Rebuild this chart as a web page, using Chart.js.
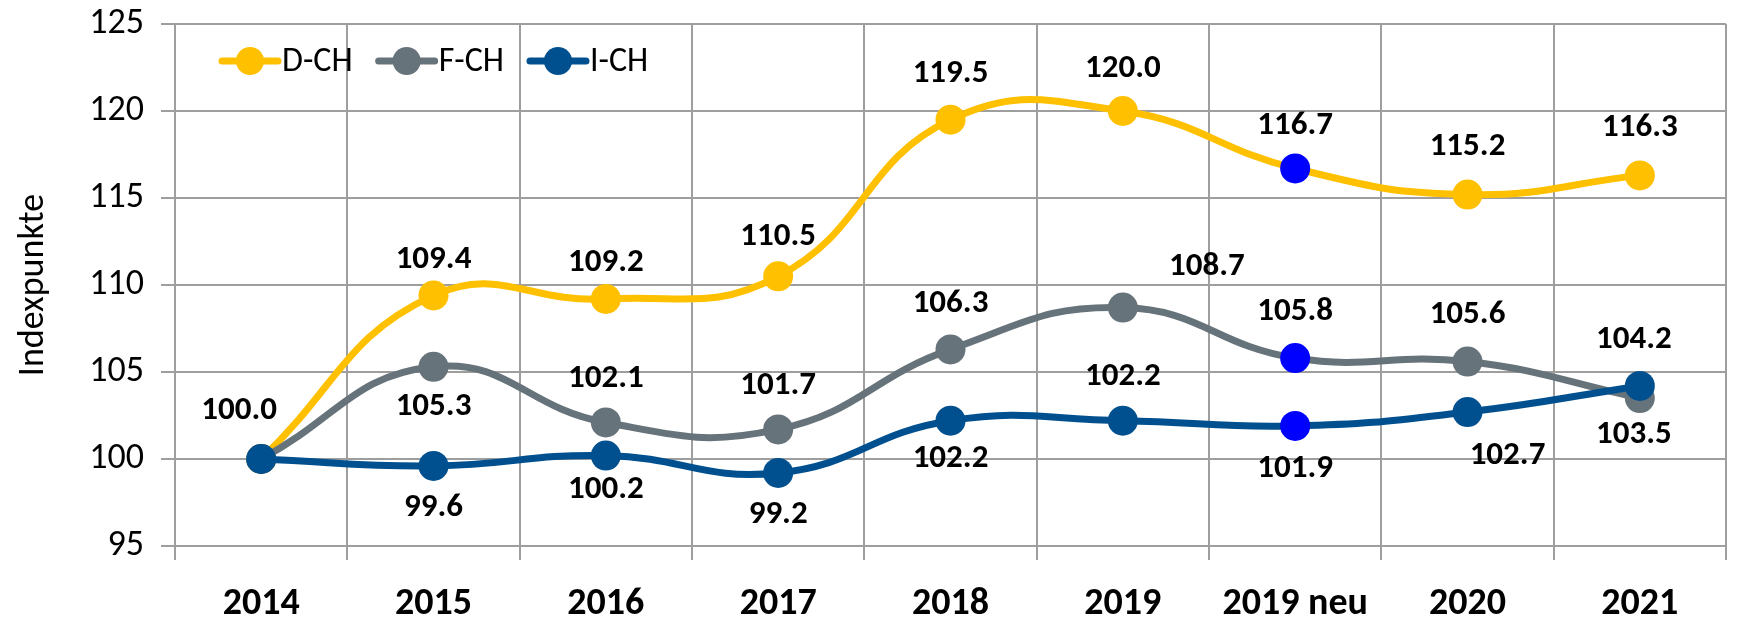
<!DOCTYPE html>
<html>
<head>
<meta charset="utf-8">
<title>Indexpunkte</title>
<script src="https://cdn.jsdelivr.net/npm/chart.js@4.4.1/dist/chart.umd.min.js"></script>
<style>
    html, body { margin:0; padding:0; background:#ffffff; }
    #chart { display:block; }
</style>
</head>
<body>
<canvas id="chart" width="1741" height="622"></canvas>
<script>
//=========================================
// Data
//=========================================
let categories = ["2014","2015","2016","2017","2018","2019","2019 neu","2020","2021"];

let dchValues = [100.0,109.4,109.2,110.5,119.5,120.0,116.7,115.2,116.3];
let fchValues = [100.0,105.3,102.1,101.7,106.3,108.7,105.8,105.6,103.5];
let ichValues = [100.0,99.6,100.2,99.2,102.2,102.2,101.9,102.7,104.2];

let yTicks = [95,100,105,110,115,120,125];

let seriesNames = ["D-CH","F-CH","I-CH"];

// which value labels are shown (the 2014 point carries only one label)
let dchShowLabel = [true,true,true,true,true,true,true,true,true];
let fchShowLabel = [false,true,true,true,true,true,true,true,true];
let ichShowLabel = [false,true,true,true,true,true,true,true,true];

//=========================================
// Styles
//=========================================
let fontFamily = "Carlito, Calibri, Lato, 'Noto Sans', sans-serif";

let yellow = "#FFC000";
let grey = "#67737A";
let navy = "#00508F";
let newBlue = "#0000FF";
let gridColor = "#9E9E9E";

// label offsets in px from the point [dx, dy]
let dchLabelOffset = [[-22,-48],[0,-36],[0,-36],[0,-40],[0,-46],[0,-42],[0,-43],[0,-48],[0,-48]];
let fchLabelOffset = [[0,0],[0,40],[0,-44],[0,-44],[0,-46],[84,-41],[0,-46],[0,-47],[-6,37]];
let ichLabelOffset = [[0,0],[0,42],[0,34],[0,42],[0,38],[0,-44],[0,43],[40,44],[-6,-46]];

function pointColors(base){
    return categories.map(function(c){ return c === "2019 neu" ? newBlue : base; });
}

//------------------------------------
// Value labels plugin
//------------------------------------
const valueLabels = {
    id:"valueLabels",
    afterDatasetsDraw(chart){
        const ctx = chart.ctx;
        ctx.save();
        ctx.font = "bold 33px " + fontFamily;
        ctx.fillStyle = "#000000";
        ctx.textAlign = "center";
        ctx.textBaseline = "middle";
        chart.data.datasets.forEach(function(ds, i){
            const meta = chart.getDatasetMeta(i);
            meta.data.forEach(function(pt, j){
                if(!ds.showLabel[j]) return;
                const off = ds.labelOffset[j];
                ctx.fillText(ds.data[j].toFixed(1), pt.x + off[0], pt.y + off[1]);
            });
        });
        ctx.restore();
    }
};

//------------------------------------
// Legend plugin (inside plot area)
//------------------------------------
const insideLegend = {
    id:"insideLegend",
    afterDraw(chart){
        const ctx = chart.ctx;
        ctx.save();
        ctx.font = "34px " + fontFamily;
        ctx.textBaseline = "middle";
        ctx.textAlign = "left";
        let x = 222;
        const y = 61;
        seriesNames.forEach(function(name){
            const ds = chart.data.datasets.find(function(d){ return d.label === name; });
            ctx.strokeStyle = ds.borderColor;
            ctx.lineWidth = 7;
            ctx.lineCap = "round";
            ctx.beginPath();
            ctx.moveTo(x, y);
            ctx.lineTo(x + 56, y);
            ctx.stroke();
            ctx.fillStyle = ds.borderColor;
            ctx.beginPath();
            ctx.arc(x + 28, y, 14, 0, Math.PI * 2);
            ctx.fill();
            ctx.fillStyle = "#000000";
            ctx.fillText(name, x + 60, y + 1);
            x += 60 + ctx.measureText(name).width + 26;
        });
        ctx.restore();
    }
};

//=========================================
// Chart
//=========================================
let lineChart = new Chart(
    document.getElementById("chart"),
    {
        type:"line",
        data:{
            labels:categories,
            datasets:[
                {
                    label:"D-CH",
                    data:dchValues,
                    showLabel:dchShowLabel,
                    labelOffset:dchLabelOffset,
                    borderColor:yellow,
                    pointBackgroundColor:pointColors(yellow),
                    order:3
                },
                {
                    label:"F-CH",
                    data:fchValues,
                    showLabel:fchShowLabel,
                    labelOffset:fchLabelOffset,
                    borderColor:grey,
                    pointBackgroundColor:pointColors(grey),
                    order:2
                },
                {
                    label:"I-CH",
                    data:ichValues,
                    showLabel:ichShowLabel,
                    labelOffset:ichLabelOffset,
                    borderColor:navy,
                    pointBackgroundColor:pointColors(navy),
                    order:1
                }
            ]
        },
        options:{
            responsive:false,
            animation:false,
            devicePixelRatio:1,
            layout:{ padding:{ top:24, right:1, left:0, bottom:0 } },
            elements:{
                line:{ borderWidth:7, tension:0.45, fill:false },
                point:{ radius:15, borderWidth:0, hoverRadius:15 }
            },
            plugins:{
                legend:{ display:false },
                tooltip:{ enabled:false }
            },
            scales:{
                x:{
                    offset:true,
                    grid:{ offset:true, color:gridColor, lineWidth:2, tickLength:14, drawTicks:true },
                    border:{ color:gridColor, width:2 },
                    ticks:{
                        color:"#000000",
                        padding:22,
                        maxRotation:0,
                        autoSkip:false,
                        font:{ family:fontFamily, size:38, weight:"bold" }
                    },
                    afterFit(scale){ scale.height = 76; }
                },
                y:{
                    min:yTicks[0],
                    max:yTicks[yTicks.length - 1],
                    afterBuildTicks(scale){
                        scale.ticks = yTicks.map(function(v){ return { value:v }; });
                    },
                    grid:{ color:gridColor, lineWidth:2, tickLength:14 },
                    border:{ color:gridColor, width:2 },
                    ticks:{
                        color:"#000000",
                        padding:17,
                        font:{ family:fontFamily, size:36 }
                    },
                    title:{
                        display:true,
                        text:"Indexpunkte",
                        color:"#000000",
                        padding:{ top:12, bottom:0 },
                        font:{ family:fontFamily, size:36 }
                    },
                    afterFit(scale){
                        scale.width = 175;
                        scale.paddingTop = 0;
                        scale.paddingBottom = 0;
                    }
                }
            }
        },
        plugins:[valueLabels, insideLegend]
    }
);
</script>
</body>
</html>
